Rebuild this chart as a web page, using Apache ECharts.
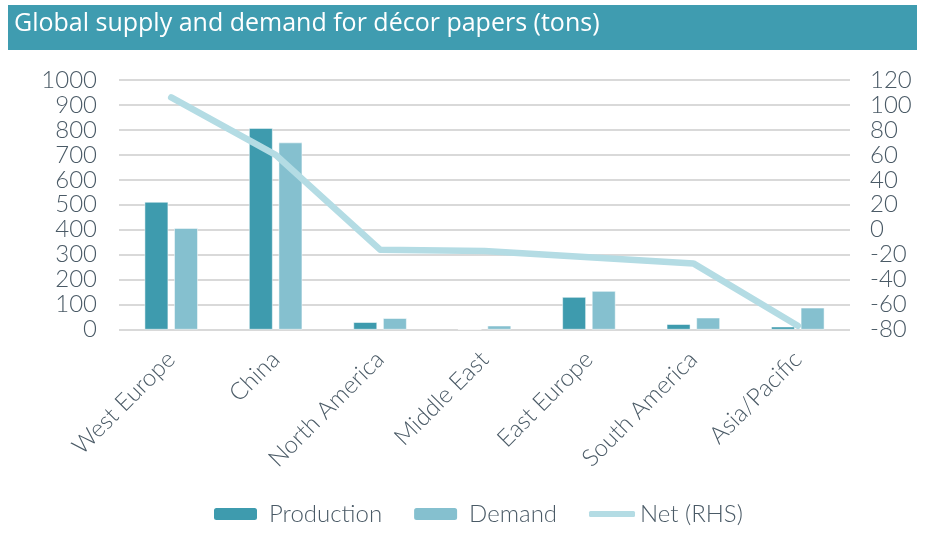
<!DOCTYPE html>
<html>
<head>
<meta charset="utf-8">
<script src="https://cdn.jsdelivr.net/npm/echarts@6/dist/echarts.min.js"></script>
<style>
  html, body { margin: 0; padding: 0; background: #fff; }
  #chart { width: 933px; height: 533px; }
</style>
</head>
<body>
<div id="chart"></div>
<script>
// Regions and tonnages
const regions = ['West Europe', 'China', 'North America', 'Middle East', 'East Europe', 'South America', 'Asia/Pacific'];
const production = [511, 807, 29, 0, 130, 21, 11];
const demand = [406, 749, 45, 15, 154, 47, 87];
const net = [106, 60, -16, -17, -22, -27, -77];

const titleText = 'Global supply and demand for décor papers (tons)';
const labelColor = '#4a5a66';
const axisFont = 'Lato';
const prodColor = '#3e9bae';
const demColor = '#85c0cf';
const netColor = '#b4dce4';

const chart = echarts.init(document.getElementById('chart'), null, { renderer: 'canvas' });

const legendText = {
  color: labelColor, fontFamily: axisFont, fontSize: 24, fontWeight: 300,
  padding: [0, 0, 0, 6]
};

chart.setOption({
  animation: false,
  backgroundColor: '#ffffff',
  graphic: [
    {
      type: 'rect',
      shape: { x: 8, y: 5, width: 909, height: 45 },
      style: { fill: '#3f9cb0' },
      silent: true
    },
    {
      type: 'text',
      left: 14,
      top: 11,
      style: {
        text: titleText,
        fill: '#ffffff',
        font: '25px "Open Sans", sans-serif'
      },
      silent: true
    }
  ],
  grid: { left: 119, right: 83, top: 80, bottom: 203.5 },
  legend: [
    {
      top: 497,
      left: 207,
      itemWidth: 45,
      itemHeight: 14,
      itemGap: 30,
      textStyle: legendText,
      data: ['Production', 'Demand']
    },
    {
      top: 497,
      left: 584,
      itemWidth: 46,
      itemHeight: 6,
      icon: 'roundRect',
      textStyle: Object.assign({}, legendText, { padding: [0, 0, 0, 0] }),
      data: ['Net (RHS)']
    }
  ],
  xAxis: {
    type: 'category',
    data: regions,
    axisLine: { show: false },
    axisTick: { show: false },
    axisLabel: {
      rotate: 45,
      interval: 0,
      margin: 26,
      color: labelColor,
      fontFamily: axisFont,
      fontWeight: 300,
      fontSize: 24
    }
  },
  yAxis: [
    {
      type: 'value',
      min: 0,
      max: 1000,
      interval: 100,
      axisLine: { show: false },
      axisTick: { show: false },
      axisLabel: {
        color: labelColor, fontFamily: axisFont, fontWeight: 300, fontSize: 24, margin: 22,
        formatter: (v) => String(v)
      },
      splitLine: { lineStyle: { color: '#d9d9d9', width: 2 } }
    },
    {
      type: 'value',
      min: -80,
      max: 120,
      interval: 20,
      axisLine: { show: false },
      axisTick: { show: false },
      axisLabel: {
        color: labelColor, fontFamily: axisFont, fontWeight: 300, fontSize: 24, margin: 20,
        formatter: (v) => String(v)
      },
      splitLine: { show: false }
    }
  ],
  series: [
    {
      name: 'Production',
      type: 'bar',
      data: production,
      barWidth: '22.5%',
      barGap: '26%',
      itemStyle: { color: prodColor, borderColor: '#ffffff', borderWidth: 0.5 }
    },
    {
      name: 'Demand',
      type: 'bar',
      data: demand,
      barWidth: '22.5%',
      itemStyle: { color: demColor, borderColor: '#ffffff', borderWidth: 0.5 }
    },
    {
      name: 'Net (RHS)',
      type: 'line',
      yAxisIndex: 1,
      data: net,
      symbol: 'none',
      lineStyle: { color: netColor, width: 6.5, cap: 'round', join: 'round' },
      itemStyle: { color: netColor }
    }
  ]
});
</script>
</body>
</html>
